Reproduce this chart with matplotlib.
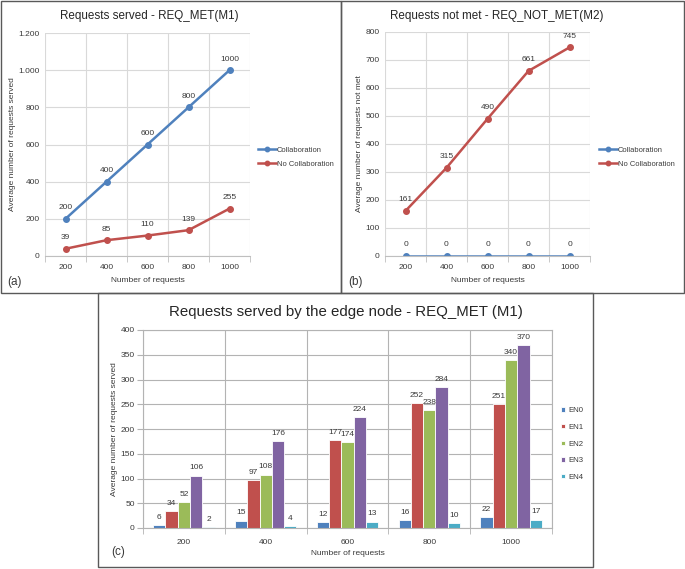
import numpy as np
import matplotlib.pyplot as plt
from matplotlib.ticker import FuncFormatter
from matplotlib.patches import Rectangle

W, H = 685, 569

# data
requests = ['200', '400', '600', '800', '1000']
met_collab = [200, 400, 600, 800, 1000]
met_nocollab = [39, 85, 110, 139, 255]
notmet_collab = [0, 0, 0, 0, 0]
notmet_nocollab = [161, 315, 490, 661, 745]
nodes = ['EN0', 'EN1', 'EN2', 'EN3', 'EN4']
en0 = [6, 15, 12, 16, 22]
en1 = [34, 97, 177, 252, 251]
en2 = [52, 108, 174, 238, 340]
en3 = [106, 176, 224, 284, 370]
en4 = [2, 4, 13, 10, 17]

blue = '#4F81BD'
red = '#C0504D'
bar_colors = ['#4F81BD', '#C0504D', '#9BBB59', '#8064A2', '#4BACC6']
txt = '#3a3a3a'
grid = '#d9d9d9'
fs = 6

plt.rcParams['font.family'] = ['Liberation Sans', 'DejaVu Sans']


def rect(x0, y0, x1, y1):
    return [x0 / W, 1 - y1 / H, (x1 - x0) / W, (y1 - y0) / H]


def thousands(v, pos):
    return f'{int(v):,}'.replace(',', '.')


fig = plt.figure(figsize=(W / 100, H / 100), dpi=100)

# panel frames
border = '#595959'
for x0, y0, x1, y1 in [(1, 1, 341, 293), (341, 1, 684, 293), (98, 293, 593, 567)]:
    fig.add_artist(Rectangle((x0 / W, 1 - y1 / H), (x1 - x0) / W, (y1 - y0) / H,
                             transform=fig.transFigure, fill=False,
                             edgecolor=border, linewidth=1.0))


def line_panel(box, title, ylabel, ymax, step, c_vals, n_vals, leg_x, title_x):
    ax = fig.add_axes(rect(*box))
    x = np.arange(len(requests))
    ax.plot(x, c_vals, color=blue, lw=1.8, marker='o', ms=4, label='Collaboration')
    ax.plot(x, n_vals, color=red, lw=1.8, marker='o', ms=4, label='No Collaboration')
    for xi, v in zip(x, c_vals):
        ax.annotate(str(v), (xi, v), xytext=(0, 5.5), textcoords='offset points',
                    ha='center', va='bottom', fontsize=fs, color=txt)
    for xi, v in zip(x, n_vals):
        ax.annotate(str(v), (xi, v), xytext=(0, 5.5), textcoords='offset points',
                    ha='center', va='bottom', fontsize=fs, color=txt)
    ax.set_xlim(-0.5, 4.5)
    ax.set_ylim(0, ymax)
    ax.set_yticks(np.arange(0, ymax + 1, step))
    ax.yaxis.set_major_formatter(FuncFormatter(thousands))
    ax.set_xticks(x)
    ax.set_xticklabels(requests)
    ax.set_xticks(np.arange(-0.5, 5, 1), minor=True)
    ax.grid(True, axis='y', color=grid, lw=0.8)
    ax.grid(True, axis='x', which='minor', color=grid, lw=0.8)
    ax.set_axisbelow(True)
    for s in ['top', 'right', 'left']:
        ax.spines[s].set_visible(False)
    ax.spines['bottom'].set_color('#bfbfbf')
    ax.tick_params(axis='x', which='major', length=0, labelsize=fs, colors=txt, pad=6)
    ax.tick_params(axis='x', which='minor', length=4, color='#bfbfbf')
    ax.tick_params(axis='y', length=0, labelsize=fs, colors=txt, pad=4)
    ax.set_xlabel('Number of requests', fontsize=fs, color=txt, labelpad=4)
    ax.set_ylabel(ylabel, fontsize=fs, color=txt, labelpad=1.5)
    fig.text(title_x / W, 1 - 16 / H, title, fontsize=8.4, color='#262626',
             ha='center', va='center')
    ax.legend(loc='center left', bbox_to_anchor=(leg_x / W, 1 - 157 / H),
              bbox_transform=fig.transFigure, frameon=False, fontsize=5.4,
              handlelength=2.4, handletextpad=0.1, labelspacing=0.9,
              labelcolor=txt, borderaxespad=0, borderpad=0, markerscale=0.8)
    return ax


line_panel((45, 33, 250, 256), 'Requests served - REQ_MET(M1)',
           'Average number of requests served', 1200, 200,
           met_collab, met_nocollab, 258, 149)
line_panel((385, 32, 590, 256), 'Requests not met - REQ_NOT_MET(M2)',
           'Average number of requests not met', 800, 100,
           notmet_collab, notmet_nocollab, 599, 497)
fig.text(7 / W, 1 - 282 / H, '(a)', fontsize=8.5, color=txt, va='center')
fig.text(348 / W, 1 - 282 / H, '(b)', fontsize=8.5, color=txt, va='center')

# bar panel
ax = fig.add_axes(rect(143, 330, 552, 528))
x = np.arange(len(requests))
bw = 0.15
series = [en0, en1, en2, en3, en4]
for i, (vals, name) in enumerate(zip(series, nodes)):
    pos = x + (i - 2) * bw
    ax.bar(pos, vals, width=bw, color=bar_colors[i], edgecolor='white',
           linewidth=0.6, label=name)
    for p, v in zip(pos, vals):
        ax.annotate(str(v), (p, v), xytext=(0, 3), textcoords='offset points',
                    ha='center', va='bottom', fontsize=fs, color=txt)
ax.set_xlim(-0.5, 4.5)
ax.set_ylim(0, 400)
ax.set_yticks(np.arange(0, 401, 50))
ax.set_xticks(x)
ax.set_xticklabels(requests)
ax.set_xticks(np.arange(-0.5, 5, 1), minor=True)
ax.grid(True, axis='y', color='#b3b3b3', lw=0.8)
ax.grid(True, axis='x', which='minor', color='#b3b3b3', lw=0.8)
ax.set_axisbelow(True)
for s in ['top', 'right', 'left', 'bottom']:
    ax.spines[s].set_color('#b3b3b3')
ax.tick_params(axis='x', which='major', length=0, labelsize=fs, colors=txt, pad=8)
ax.tick_params(axis='x', which='minor', length=4, color='#b3b3b3')
ax.tick_params(axis='y', length=4, color='#b3b3b3', labelsize=fs, colors=txt, pad=2)
ax.set_xlabel('Number of requests', fontsize=fs, color=txt, labelpad=3)
ax.set_ylabel('Average number of requests served', fontsize=fs, color=txt, labelpad=2)
fig.text(346 / W, 1 - 312 / H, 'Requests served by the edge node - REQ_MET (M1)',
         fontsize=10.8, color='#262626', ha='center', va='center')
ax.legend(loc='center left', bbox_to_anchor=(561 / W, 1 - 444 / H),
          bbox_transform=fig.transFigure, frameon=False, fontsize=5.6,
          handlelength=0.5, handleheight=0.5, handletextpad=0.4,
          labelspacing=1.25, labelcolor=txt, borderaxespad=0, borderpad=0)
fig.text(111 / W, 1 - 552 / H, '(c)', fontsize=8.5, color=txt, va='center')

fig.savefig('out.png', dpi=100)
